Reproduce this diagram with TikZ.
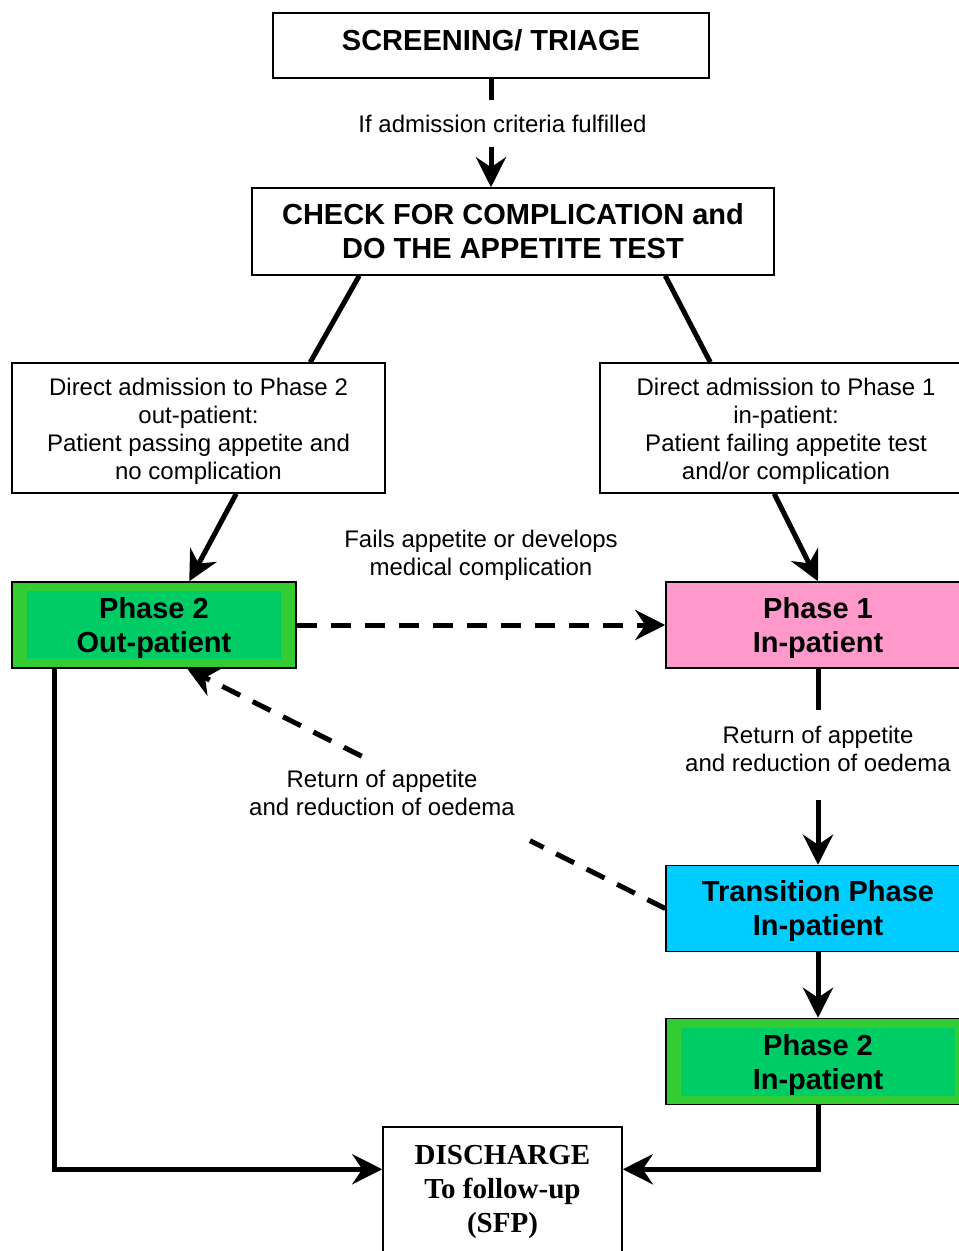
\documentclass[tikz,border=0pt]{standalone}
\usepackage{fontspec}
\setmainfont{Liberation Sans}
\newfontfamily\dischargefont{Liberation Serif}
\usetikzlibrary{arrows.meta,calc}
\definecolor{outgreen}{RGB}{51,204,51}
\definecolor{ingreen}{RGB}{0,204,102}
\definecolor{pinkbox}{RGB}{255,153,204}
\definecolor{cyanbox}{RGB}{0,204,255}
\newcommand{\bstrut}{\rule{0pt}{27pt}}
\newcommand{\rstrut}{\rule{0pt}{23.5pt}}
\begin{document}
\begin{tikzpicture}[x=1pt,y=-1pt,
  box/.style={draw, line width=1.5pt, align=center, inner sep=0pt, font=\fontsize{24}{28}\selectfont},
  titlebox/.style={box, font=\bfseries\fontsize{29}{34}\selectfont},
  greenbox/.style={titlebox, fill=outgreen,
    path picture={\fill[ingreen] ([xshift=15pt,yshift=-9pt]path picture bounding box.north west) rectangle ([xshift=-15pt,yshift=9pt]path picture bounding box.south east);}},
  conn/.style={line width=5pt, line join=miter},
  arr/.style={conn, -{Stealth[length=30pt,width=30pt,inset=10pt]}},
  dashconn/.style={conn, dash pattern=on 20pt off 14pt},
  dasharr/.style={arr, dash pattern=on 20pt off 14pt},
  lbl/.style={font=\fontsize{24}{28}\selectfont, align=center, fill=white, inner sep=3pt}
]
\useasboundingbox (0,0) rectangle (959,1251);
\clip (0,0) rectangle (959,1251);

% boxes
\node[titlebox, text depth=11pt, minimum width=436pt, minimum height=65pt] (screen) at (491,45.5) {SCREENING/ TRIAGE};
\node[titlebox, minimum width=522pt, minimum height=87pt] (check) at (513,231.5) {CHECK FOR COMPLICATION and\\DO THE APPETITE TEST};
\node[box, minimum width=373pt, minimum height=130pt] (left) at (198.5,428) {\rstrut Direct admission to Phase 2\\out-patient:\\Patient passing appetite and\\no complication};
\node[box, minimum width=372pt, minimum height=130pt] (right) at (786,428) {\rstrut Direct admission to Phase 1\\in-patient:\\Patient failing appetite test\\and/or complication};
\node[greenbox, minimum width=284pt, minimum height=86pt] (p2out) at (154,625) {\bstrut Phase 2\\Out-patient};
\node[titlebox, fill=pinkbox, minimum width=304pt, minimum height=86pt] (p1) at (818,625) {\bstrut Phase 1\\In-patient};
\node[titlebox, fill=cyanbox, minimum width=304pt, minimum height=86pt] (trans) at (818,908.5) {\rule{0pt}{25pt}Transition Phase\\In-patient};
\node[greenbox, minimum width=304pt, minimum height=86pt] (p2in) at (818,1061.5) {\bstrut Phase 2\\In-patient};
\node[box, font=\dischargefont\bfseries\fontsize{29}{34}\selectfont, minimum width=239pt, minimum height=130pt] (dis) at (502.5,1192) {DISCHARGE\\To follow-up\\(SFP)};

\coordinate (dl) at ($(dis.north west)+(0,43)$);
\coordinate (dr) at ($(dis.north east)+(0,43)$);
\coordinate (tip) at ([xshift=176pt]p2out.south west);
\coordinate (gaptop) at (818,710);
\coordinate (gapbot) at (818,800);

% connectors
\draw[arr] (screen.south) -- (screen.south |- check.north);
\draw[conn] ([xshift=108pt]check.south west) -- ([xshift=299pt]left.north west);
\draw[conn] ([xshift=414pt]check.south west) -- ([xshift=111pt]right.north west);
\draw[arr] ([xshift=225pt]left.south west) -- ([xshift=178pt]p2out.north west);
\draw[arr] ([xshift=175pt]right.south west) -- (p1.north);
\draw[dasharr] (p2out.east) -- (p1.west);
\draw[conn] (p1.south) -- (gaptop);
\draw[arr] (gapbot) -- (trans.north);
\draw[dashconn] (trans.west) -- ($(trans.west)!0.283!(tip)$);
\draw[dasharr] ($(trans.west)!0.635!(tip)$) -- (tip);
\draw[arr] (trans.south) -- (p2in.north);
\draw[arr] (p2in.south) |- (dr);
\draw[arr] ([xshift=43pt]p2out.south west) |- (dl);

% labels
\node[lbl, minimum height=47pt] (l1) at (502.5,123.5) {If admission criteria fulfilled};
\node[lbl, fill=none] (l2) at (481,555) {Fails appetite or develops\\medical complication};
\node[lbl, fill=none] (l3) at (818,749) {Return of appetite\\and reduction of oedema};
\node[lbl, fill=none] (l4) at (382,793) {Return of appetite\\and reduction of oedema};
\end{tikzpicture}
\end{document}
